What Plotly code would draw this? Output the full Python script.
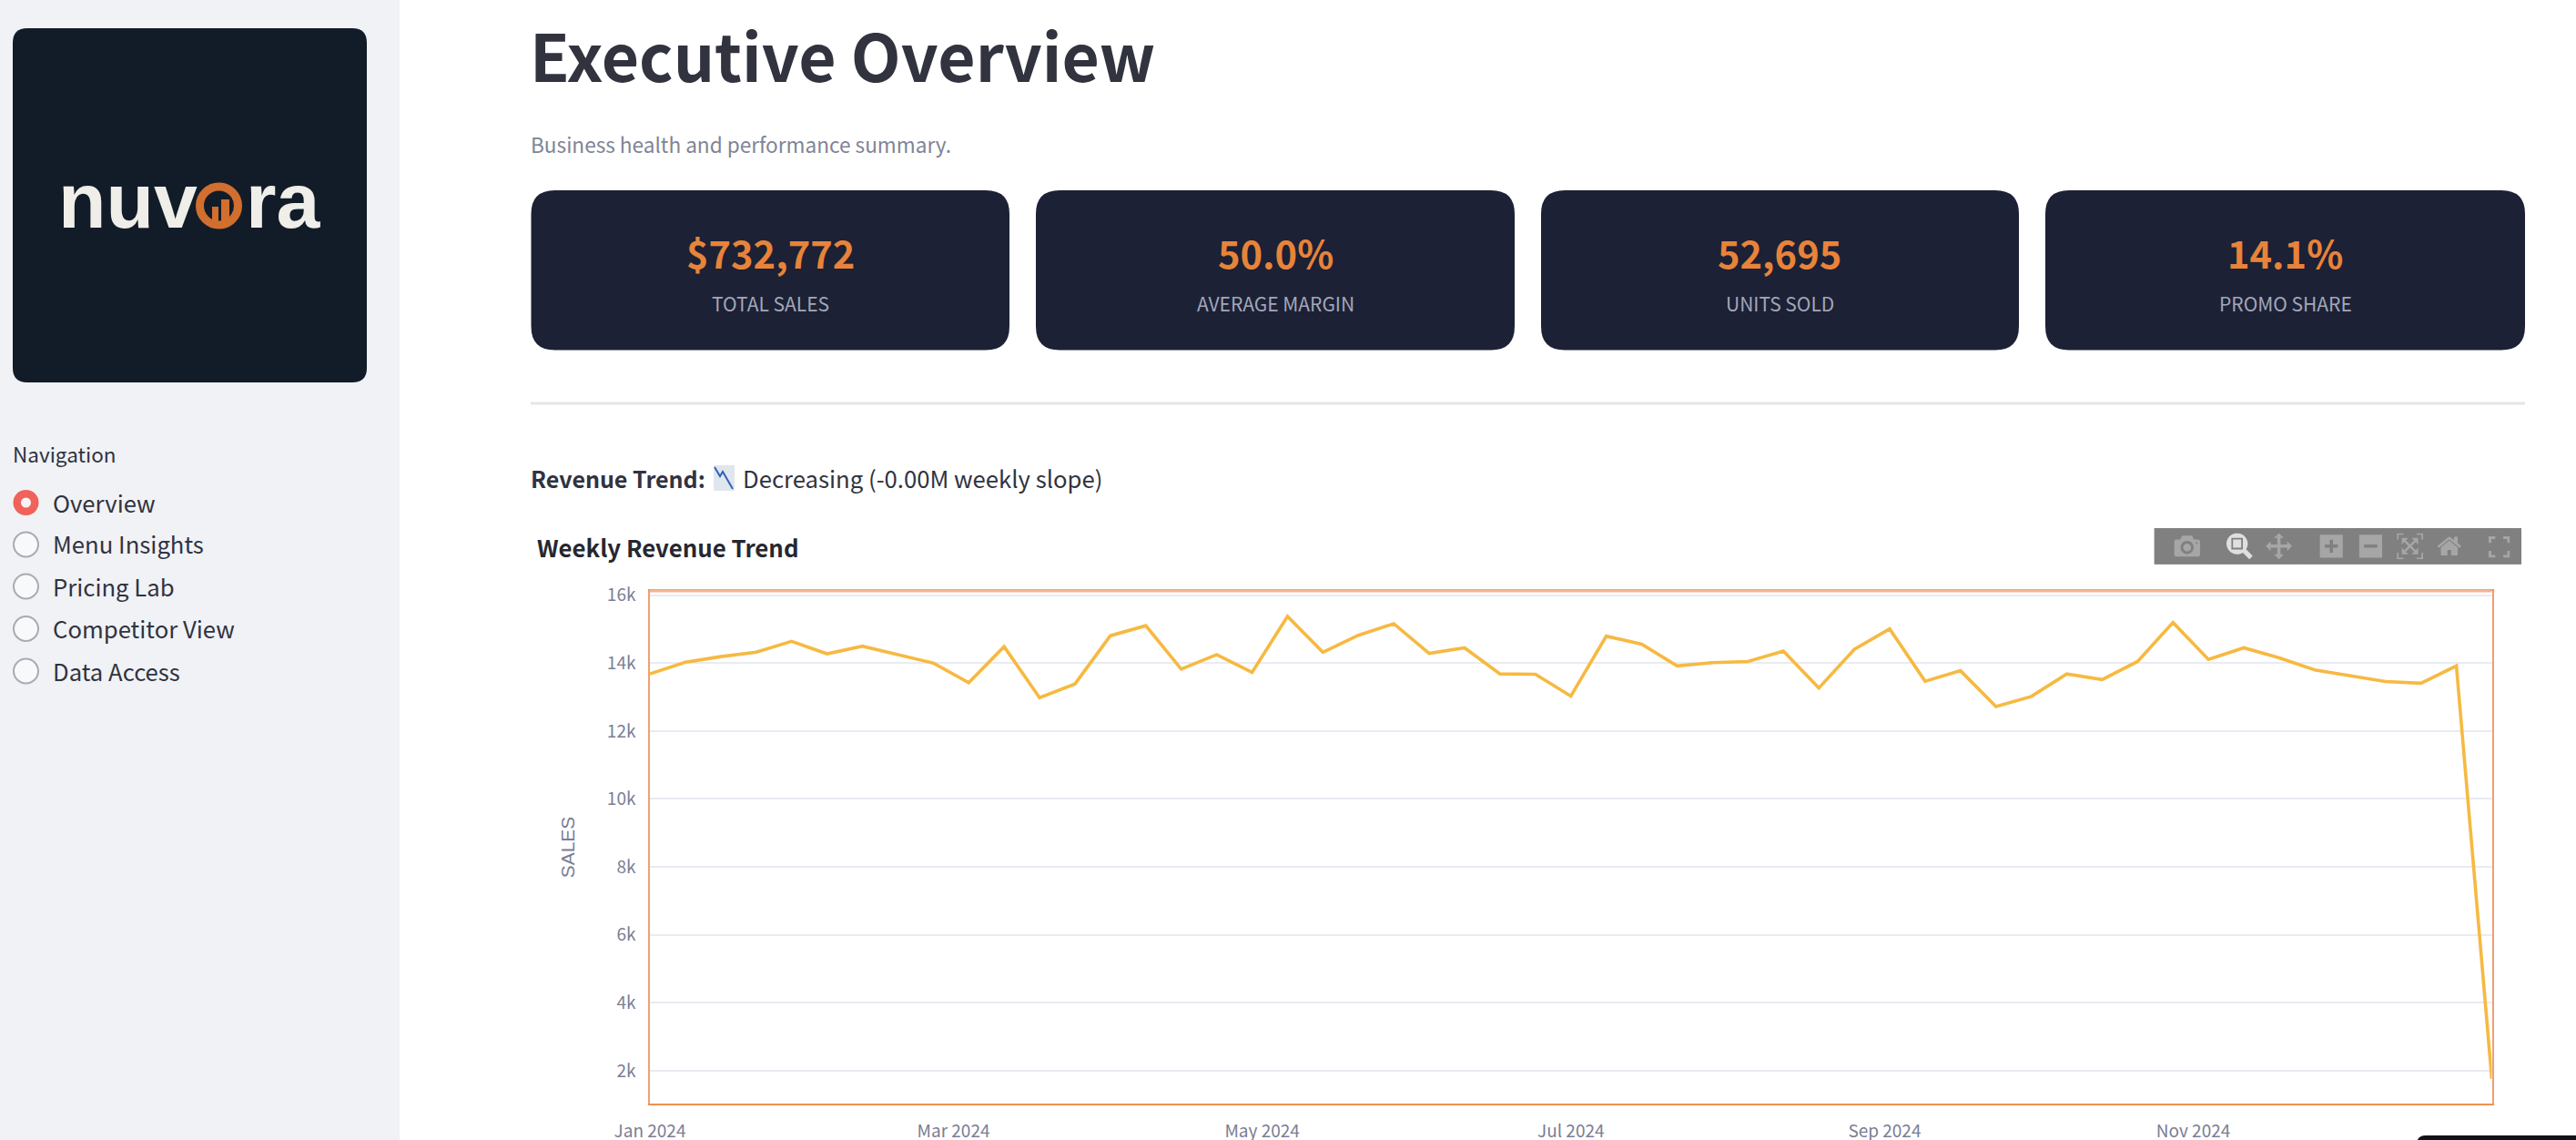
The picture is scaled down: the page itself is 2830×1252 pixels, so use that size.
import pandas as pd
import plotly.graph_objects as go

W, H = 2830, 1252

# weekly revenue
week_start = "2024-01-01"
weekly_sales = [
    13680, 14024, 14190, 14320, 14640, 14272, 14497, 14250, 14000, 13420,
    14485, 12982, 13385, 14805, 15100, 13822, 14250, 13728, 15373, 14320,
    14817, 15160, 14284, 14450, 13680, 13669, 13030, 14793, 14556, 13917,
    14012, 14047, 14355, 13266, 14402, 15006, 13467, 13775, 12722, 13018,
    13680, 13515, 14047, 15195, 14107, 14450, 14154, 13799, 13633, 13456,
    13408, 13917, 1763,
]
kpi_values = ["$732,772", "50.0%", "52,695", "14.1%"]
kpi_labels = ["TOTAL SALES", "AVERAGE MARGIN", "UNITS SOLD", "PROMO SHARE"]
nav_items = ["Overview", "Menu Insights", "Pricing Lab", "Competitor View", "Data Access"]

UI_FONT = "Noto Sans CJK SC"
LOGO_FONT = "Liberation Sans"
INK = "#31333f"
ORANGE = "#e8833a"
LOGO_DARK = "#121c28"
LOGO_ORANGE = "#d26e2e"
AXIS_GREY = "#7b7e95"


def px(x):
    return x / W


def py(y):
    return 1 - y / H


def rounded_rect(x0, y0, x1, y1, r, color):
    # paper coordinates, so the path stays put whatever the axes do
    path = (
        f"M {px(x0 + r)} {py(y0)} L {px(x1 - r)} {py(y0)} Q {px(x1)} {py(y0)} {px(x1)} {py(y0 + r)} "
        f"L {px(x1)} {py(y1 - r)} Q {px(x1)} {py(y1)} {px(x1 - r)} {py(y1)} "
        f"L {px(x0 + r)} {py(y1)} Q {px(x0)} {py(y1)} {px(x0)} {py(y1 - r)} "
        f"L {px(x0)} {py(y0 + r)} Q {px(x0)} {py(y0)} {px(x0 + r)} {py(y0)} Z"
    )
    return dict(type="path", xref="paper", yref="paper", path=path, fillcolor=color, line_width=0, layer="below")


def rect(x0, y0, x1, y1, color):
    return dict(type="rect", xref="paper", yref="paper", x0=px(x0), x1=px(x1), y0=py(y1), y1=py(y0),
                fillcolor=color, line_width=0, layer="below")


def circle(cx, cy, r, fill, line=None, width=0):
    return dict(type="circle", xref="paper", yref="paper", x0=px(cx - r), x1=px(cx + r), y0=py(cy + r), y1=py(cy - r),
                fillcolor=fill, line=dict(color=line or fill, width=width), layer="below")


def label(x, y, text, size, color, anchor="left", family=UI_FONT, weight=400):
    return dict(x=px(x), y=py(y), xref="paper", yref="paper", text=text, showarrow=False, xanchor=anchor,
                yanchor="middle", font=dict(family=family, size=size, color=color, weight=weight))


shapes = [rect(0, 0, 439, H, "#f0f2f6"), rounded_rect(14, 31, 403, 420, 16, LOGO_DARK)]
annotations = []

# logo: the o is a ring with two small bars standing in it
annotations.append(label(62, 220, "nuv", 86, "#efeee9", family=LOGO_FONT, weight=700))
annotations.append(label(268, 220, "ra", 86, "#efeee9", family=LOGO_FONT, weight=700))
shapes.append(circle(240.5, 226, 21, LOGO_DARK, LOGO_ORANGE, 9))
shapes.append(rect(233, 227, 240, 246, LOGO_ORANGE))
shapes.append(rect(243, 219, 252, 244, LOGO_ORANGE))

# sidebar navigation
annotations.append(label(12, 498, "Navigation", 22.5, INK))
nav_y = [552, 598, 644, 690.5, 737]
for i, (name, y) in enumerate(zip(nav_items, nav_y)):
    if i == 0:
        shapes.append(circle(28.5, y, 14, "#f0625a"))
        shapes.append(circle(28.5, y, 5.5, "#f5f5f7"))
    else:
        shapes.append(circle(28.5, y, 13.5, "#f8f9fb", "#a9abb3", 2))
    annotations.append(label(56, y - 1, name, 25.7, INK))

# header
annotations.append(label(580, 59, "Executive Overview", 71.3, INK, weight=700))
annotations.append(label(581, 158, "Business health and performance summary.", 22.6, "#808495"))

# kpi cards
card_x = [(583.5, 1109), (1138, 1664), (1693, 2218), (2247, 2774)]
for (x0, x1), value, name in zip(card_x, kpi_values, kpi_labels):
    shapes.append(rounded_rect(x0, 209, x1, 384.5, 26, "#1c2135"))
    annotations.append(label((x0 + x1) / 2, 277, value, 41.6, ORANGE, anchor="center", weight=700))
    annotations.append(label((x0 + x1) / 2, 332.5, name, 21, "#a3a7b8", anchor="center"))

shapes.append(rect(583, 441.5, 2774, 444.5, "#e6e6ea"))

# trend line text with the chart-decreasing glyph drawn by hand
annotations.append(label(581, 524.5, "Revenue Trend:", 25, INK, weight=700))
shapes.append(rect(784, 511, 807, 539, "#dfe6ee"))
shapes.append(dict(type="path", xref="paper", yref="paper", layer="below",
                   path=f"M {px(785)} {py(513)} L {px(791)} {py(523)} L {px(794)} {py(518)} L {px(805)} {py(537)}",
                   line=dict(color="#2f63b8", width=2)))
annotations.append(label(814, 524.5, "Decreasing (-0.00M weekly slope)", 25.7, INK))

annotations.append(label(588, 600.5, "Weekly Revenue Trend", 25.8, "#262730", weight=700))

# the bar cut off by the bottom of the window
shapes.append(rounded_rect(2655, 1247, 2850, 1300, 10, "#111218"))

# top edge of the plot frame is paler than the rest
shapes.append(dict(type="line", xref="paper", yref="paper", x0=px(714), x1=px(2737.5), y0=py(649), y1=py(649),
                   line=dict(color="#f3b693", width=3), layer="above"))

week_dates = [str(d.date()) for d in pd.date_range(week_start, periods=len(weekly_sales), freq="7D")]

fig = go.Figure(go.Scatter(x=week_dates, y=weekly_sales, mode="lines",
                           line=dict(color="#f6b941", width=3.6), showlegend=False))

fig.update_layout(
    width=W,
    height=H,
    margin=dict(l=0, r=0, t=0, b=0),
    paper_bgcolor="white",
    plot_bgcolor="white",
    shapes=shapes,
    annotations=annotations,
    dragmode="zoom",
    modebar=dict(bgcolor="#808080", color="rgba(255,255,255,0.3)", activecolor="rgba(255,255,255,0.75)"),
    font=dict(family=UI_FONT, size=19, color=AXIS_GREY),
)
fig.update_xaxes(
    automargin=False,
    domain=[px(714), px(2737.5)],
    range=[week_dates[0], week_dates[-1]],
    dtick="M2",
    tick0="2024-01-01",
    tickformat="%b %Y",
    showgrid=False,
    zeroline=False,
    showline=True,
    mirror=True,
    linecolor="#ef9150",
    linewidth=2,
    ticks="",
    ticklabelstandoff=12,
    tickfont=dict(family=UI_FONT, size=19, color=AXIS_GREY),
)
fig.update_yaxes(
    automargin=False,
    domain=[py(1212), py(649)],
    range=[1035, 16123],
    tickvals=[2000, 4000, 6000, 8000, 10000, 12000, 14000, 16000],
    ticktext=["2k", "4k", "6k", "8k", "10k", "12k", "14k", "16k"],
    showgrid=True,
    gridcolor="#e9ebf3",
    gridwidth=2,
    zeroline=False,
    showline=True,
    mirror=True,
    linecolor="#f0a070",
    linewidth=1.5,
    ticks="",
    ticklabelstandoff=10,
    tickfont=dict(family=UI_FONT, size=19, color=AXIS_GREY),
    title=dict(text="SALES", font=dict(family="Liberation Sans", size=21, color=AXIS_GREY), standoff=30),
)

# modebar sits over the chart corner, at the page's zoom level
page_css = """
var s = document.createElement('style');
s.textContent = 'html,body{margin:0;padding:0;overflow:hidden}'
  + '.modebar{top:580px!important;right:60px!important;transform:scale(1.8);transform-origin:top right;'
  + 'background:#808080;padding:2px 0 1px 0}';
document.head.appendChild(s);
var bar = document.querySelector('.modebar');
if (bar) {
  var g = document.createElement('div');
  g.className = 'modebar-group';
  g.style.backgroundColor = '#808080';
  g.innerHTML = '<a class="modebar-btn" style="padding:4.5px 7px 3px 4px"><svg viewBox="0 0 16 16" width="13px" height="13px">'
    + '<path d="M1 5V1h4M11 1h4v4M15 11v4h-4M5 15H1v-4" fill="none" stroke="rgba(255,255,255,0.3)" stroke-width="2"/></svg></a>';
  bar.appendChild(g);
}
"""

fig.write_html("out.html", config=dict(displayModeBar=True, displaylogo=False), post_script=page_css)
